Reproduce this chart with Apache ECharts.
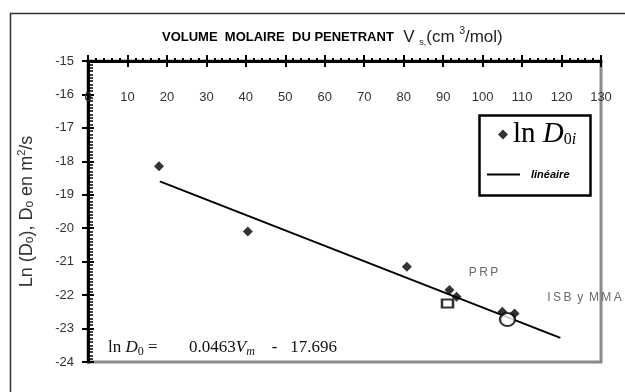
<!DOCTYPE html>
<html>
<head>
<meta charset="utf-8">
<script src="https://cdn.jsdelivr.net/npm/echarts@6/dist/echarts.min.js"></script>
<style>
html,body{margin:0;padding:0;background:#fff;}
#c{width:625px;height:392px;}
</style>
</head>
<body>
<div id="c"></div>
<script>
// ---- data ----
const volumes = [18, 40.5, 80.8, 91.6, 93.4, 105, 108.1];
const lnD0 = [-18.15, -20.1, -21.15, -21.85, -22.05, -22.5, -22.55];
const fitX = [18.2, 119.7];
const fitY = [-18.6, -23.28];
const prpX = [91.1];
const prpY = [-22.25];
const isbX = [106.3];
const isbY = [-22.73];
const xMin = 0, xMax = 130, xStep = 10;
const yMin = -24, yMax = -15, yStep = 1;

const chart = echarts.init(document.getElementById('c'), null, {renderer: 'canvas'});
const sans = 'Liberation Sans, Arial, sans-serif';
const serif = 'Liberation Serif, Times New Roman, serif';

function pairs(xs, ys) { return xs.map((x, i) => [x, ys[i]]); }

const baseX = {
  type: 'value', min: xMin, max: xMax, interval: xStep, position: 'top',
  splitLine: {show: false}
};
const baseY = {
  type: 'value', min: yMin, max: yMax, interval: yStep, position: 'left',
  splitLine: {show: false}
};

chart.setOption({
  backgroundColor: '#fff',
  animation: false,
  grid: {left: 88, top: 61, right: 24, bottom: 30, show: true, borderColor: '#8a8a8a', borderWidth: 3, backgroundColor: 'transparent'},
  xAxis: [
    Object.assign({}, baseX, {
      axisLine: {show: true, onZero: false, lineStyle: {color: '#000', width: 3}},
      axisTick: {show: true, inside: false, length: 6, lineStyle: {color: '#000', width: 2}},
      minorTick: {show: true, splitNumber: 5, length: 3, lineStyle: {color: '#000', width: 2}},
      axisLabel: {show: true, inside: true, margin: 30, color: '#333', fontFamily: sans, fontSize: 13, showMinLabel: true, showMaxLabel: true, hideOverlap: false}
    }),
    Object.assign({}, baseX, {
      axisLine: {show: false, onZero: false},
      axisTick: {show: true, inside: true, length: 6, lineStyle: {color: '#000', width: 2}},
      axisLabel: {show: false}
    })
  ],
  yAxis: [
    Object.assign({}, baseY, {
      axisLine: {show: true, onZero: false, lineStyle: {color: '#000', width: 3}},
      axisTick: {show: true, inside: false, length: 6, lineStyle: {color: '#000', width: 2}},
      axisLabel: {show: true, margin: 14, color: '#333', fontFamily: sans, fontSize: 13},
      name: '{a|Ln (D}{s|o}{a|), D}{s|o}{a| en m}{p|2}{a|/s}',
      nameLocation: 'middle', nameRotate: 90, nameGap: 49,
      nameTextStyle: {
        rich: {
          a: {fontFamily: sans, fontSize: 18, color: '#333'},
          s: {fontFamily: sans, fontSize: 12, color: '#333', padding: [5, 0, 0, 0]},
          p: {fontFamily: sans, fontSize: 11, color: '#333', padding: [0, 0, 12, 0]}
        }
      }
    }),
    Object.assign({}, baseY, {
      axisLine: {show: false, onZero: false},
      axisTick: {show: true, inside: true, length: 6, lineStyle: {color: '#000', width: 2}},
      minorTick: {show: true, splitNumber: 10, length: 5, lineStyle: {color: '#000', width: 1.5}},
      axisLabel: {show: false}
    })
  ],
  legend: [
    {
      data: [{name: 'lnD0i', icon: 'diamond'}],
      left: 498, top: 120, itemWidth: 10, itemHeight: 10, padding: 0,
      selectedMode: false, z: 20,
      formatter: () => '{ln|ln }{d|D}{z|0}{i|i}',
      textStyle: {
        rich: {
          ln: {fontFamily: serif, fontSize: 29, color: '#000'},
          d: {fontFamily: serif, fontSize: 29, fontStyle: 'italic', color: '#000'},
          z: {fontFamily: serif, fontSize: 16, color: '#000', padding: [11, 0, 0, 0]},
          i: {fontFamily: serif, fontSize: 16, fontStyle: 'italic', color: '#000', padding: [11, 0, 0, 0]}
        }
      }
    },
    {
      data: [{name: 'linéaire', icon: 'rect'}],
      left: 487, top: 169, itemWidth: 33, itemHeight: 2, padding: 0,
      selectedMode: false, z: 20,
      itemStyle: {color: '#000'},
      formatter: () => '{l|linéaire}',
      textStyle: {
        rich: {
          l: {fontFamily: sans, fontSize: 11, fontWeight: 'bold', fontStyle: 'italic', color: '#000', padding: [0, 0, 0, 6]}
        }
      }
    }
  ],
  graphic: [
    {type: 'rect', left: 8, top: 11, shape: {width: 640, height: 420}, style: {fill: 'none', stroke: '#333', lineWidth: 1.5}, silent: true, z: -10},
    {type: 'rect', left: 477, top: 113, shape: {width: 111, height: 80}, style: {fill: 'none', stroke: '#000', lineWidth: 2.5}, z: 1},
    {
      type: 'text', left: 162, top: 26, z: 10,
      style: {
        text: '{b|VOLUME  MOLAIRE  DU PENETRANT}{n|  V }{s|s,}{n|(cm }{p|3}{n|/mol)}',
        rich: {
          b: {fontFamily: sans, fontSize: 13, fontWeight: 'bold', fill: '#000'},
          n: {fontFamily: sans, fontSize: 17, fill: '#222'},
          s: {fontFamily: sans, fontSize: 9, fill: '#222', padding: [11, 0, 0, 0]},
          p: {fontFamily: sans, fontSize: 10, fill: '#222', padding: [0, 0, 13, 0]}
        }
      }
    },
    {
      type: 'text', left: 108, top: 339, z: 10,
      style: {
        text: '{t|ln }{i|D}{z|0}{t| =}',
        rich: {
          t: {fontFamily: serif, fontSize: 17, fill: '#111'},
          i: {fontFamily: serif, fontSize: 17, fontStyle: 'italic', fill: '#111'},
          z: {fontFamily: serif, fontSize: 12, fill: '#111', padding: [8, 0, 0, 0]}
        }
      }
    },
    {
      type: 'text', left: 189, top: 339, z: 10,
      style: {
        text: '{t|0.0463}{i|V}{m|m}{t|    -   17.696}',
        rich: {
          t: {fontFamily: serif, fontSize: 17, fill: '#111'},
          i: {fontFamily: serif, fontSize: 17, fontStyle: 'italic', fill: '#111'},
          m: {fontFamily: serif, fontSize: 12, fontStyle: 'italic', fill: '#111', padding: [8, 0, 0, 0]}
        }
      }
    }
  ],
  series: [
    {
      name: 'linéaire', type: 'line', data: pairs(fitX, fitY),
      showSymbol: false, symbol: 'none',
      lineStyle: {color: '#000', width: 2}, itemStyle: {color: '#000'}, z: 3
    },
    {
      name: 'lnD0i', type: 'scatter', data: pairs(volumes, lnD0),
      symbol: 'diamond', symbolSize: [10, 10],
      itemStyle: {color: '#000'}, z: 4
    },
    {
      name: 'PRP', type: 'scatter', data: pairs(prpX, prpY),
      symbol: 'rect', symbolSize: [11, 8],
      itemStyle: {color: '#fff', borderColor: '#000', borderWidth: 2.2}, z: 4,
      label: {show: true, formatter: 'P\u2009R\u2009P', position: 'inside', offset: [36, -31], color: '#444', fontFamily: sans, fontSize: 12}
    },
    {
      name: 'ISB y MMA', type: 'scatter', data: pairs(isbX, isbY),
      symbol: 'circle', symbolSize: [15, 13],
      itemStyle: {color: '#fff', borderColor: '#000', borderWidth: 2.2}, z: 4,
      label: {show: true, formatter: 'I\u2009S\u2009B\u2009 y\u2009 M\u2009M\u2009A', position: 'inside', offset: [77, -22], color: '#444', fontFamily: sans, fontSize: 12}
    }
  ]
});

// the "0" tick label at x = xMin, placed through the axis scale
const p0 = chart.convertToPixel({xAxisIndex: 0, yAxisIndex: 0}, [xMin, yMax]);
chart.setOption({
  graphic: [{
    id: 'zeroLabel', type: 'text', x: p0[0], y: p0[1] + 30, z: 10,
    style: {text: String(xMin), fill: '#333', font: '13px ' + sans, textAlign: 'center', textVerticalAlign: 'top'}
  }]
});
</script>
</body>
</html>
